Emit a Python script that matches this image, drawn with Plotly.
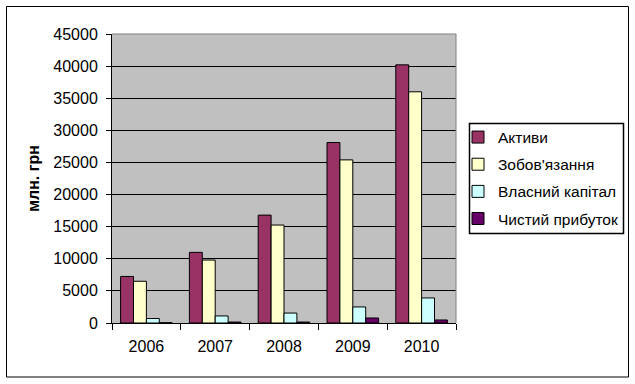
import plotly.graph_objects as go

years = ["2006", "2007", "2008", "2009", "2010"]
aktyvy = [7250, 11000, 16800, 28100, 40200]
zobov = [6500, 9800, 15250, 25400, 36000]
vlasnyi = [700, 1100, 1550, 2500, 3900]
prybutok = [40, 150, 150, 780, 470]
series_names = ["Активи", "Зобов'язання", "Власний капітал", "Чистий прибуток"]
colors = ["#993366", "#FFFFCC", "#CCFFFF", "#660066"]
y_ticks = [0, 5000, 10000, 15000, 20000, 25000, 30000, 35000, 40000, 45000]

fig = go.Figure()
for i, (name, vals, c) in enumerate(zip(series_names, [aktyvy, zobov, vlasnyi, prybutok], colors)):
    fig.add_trace(go.Bar(x=years, y=vals, name=name, legendgroup=f"g{i}",
                         marker=dict(color=c, line=dict(color="black", width=1))))

L, R, T, B = 112, 179, 34, 61
PW, PH = 635 - L - R, 384 - T - B

def px(x):
    return (x - L) / PW

def py(y):
    return (384 - B - y) / PH

FS = 16

fig.update_layout(
    width=635, height=384,
    margin=dict(l=L, r=R, t=T, b=B, autoexpand=False),
    paper_bgcolor="white", plot_bgcolor="#C0C0C0",
    barmode="group", bargap=0.25, bargroupgap=0,
    font=dict(family="Liberation Sans, Arial", size=FS, color="black"),
    showlegend=True,
    legend=dict(x=px(458), y=py(178), xanchor="left", yanchor="middle",
                bgcolor="rgba(0,0,0,0)", font=dict(size=15.5),
                tracegroupgap=4, itemwidth=30),
    xaxis=dict(showline=True, linecolor="black", linewidth=1,
               ticks="outside", tickson="boundaries", ticklen=6, tickcolor="black",
               showgrid=False, tickfont=dict(size=FS), ticklabelstandoff=9),
    yaxis=dict(range=[0, 45000], tickvals=y_ticks, ticktext=[str(v) for v in y_ticks],
               showline=True, linecolor="black", linewidth=1,
               ticks="outside", ticklen=5, tickcolor="black",
               showgrid=True, gridcolor="black", gridwidth=1,
               zeroline=False, tickfont=dict(size=FS), ticklabelstandoff=5,
               title=dict(text="<b>млн. грн</b>", font=dict(size=FS), standoff=9)),
    shapes=[
        dict(type="line", xref="paper", yref="paper", x0=0, x1=1, y0=1, y1=1,
             line=dict(color="#808080", width=1)),
        dict(type="line", xref="paper", yref="paper", x0=1, x1=1, y0=0, y1=1,
             line=dict(color="#808080", width=1)),
        dict(type="rect", xref="paper", yref="paper", x0=px(469.5), x1=px(623.5),
             y0=py(233.5), y1=py(123.5), line=dict(color="black", width=1.5)),
        dict(type="rect", xref="paper", yref="paper", x0=px(6.5), x1=px(628.5),
             y0=py(377), y1=py(6.5), line=dict(color="black", width=1)),
    ],
)

fig.write_html("out.html", config=dict(displayModeBar=False),
               post_script="document.body.style.margin='0';document.body.style.overflow='hidden';")
